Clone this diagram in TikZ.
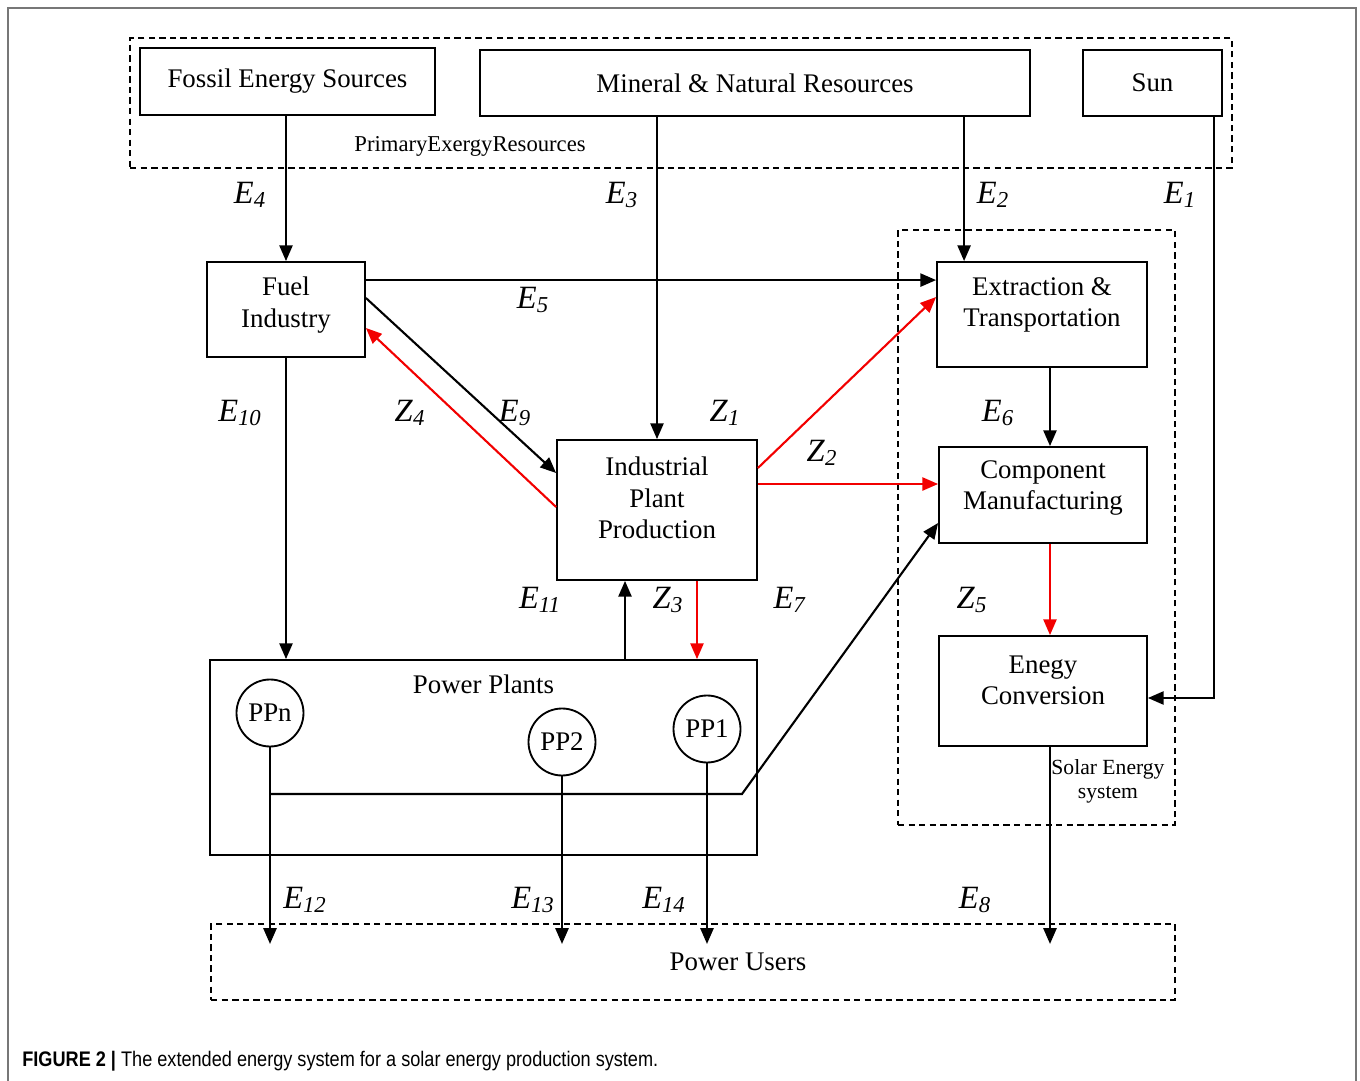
\documentclass[tikz,border=0pt]{standalone}
\usepackage{fontspec}
\setmainfont{Liberation Serif}
\newfontfamily\capfont[FakeStretch=0.86]{Liberation Sans}
\usepackage{xcolor}
\usepackage{tikz}
\usetikzlibrary{arrows.meta,positioning}
\definecolor{flowred}{HTML}{F20000}
\definecolor{framegray}{HTML}{777777}
\newcommand{\boxfont}{\fontsize{15.3}{17.8}\selectfont}
\newcommand{\lblfont}{\fontsize{18.5}{20}\selectfont}
\newcommand{\flow}[2]{\textit{#1}\textsubscript{\textit{#2}}}

\begin{document}
\begin{tikzpicture}[x=0.02cm,y=-0.02cm,
  box/.style={draw,line width=1.05pt,inner sep=0pt,align=center,font=\boxfont},
  txt/.style={align=center,inner sep=0pt,font=\boxfont},
  dashbox/.style={draw,line width=1.2pt,dash pattern=on 3.6pt off 2.4pt,inner sep=0pt},
  pp/.style={draw,circle,line width=1.05pt,minimum size=1.34cm,inner sep=0pt,font=\boxfont},
  flow/.style={line width=1.2pt,-{Triangle[length=9pt,width=7.5pt]}},
  zflow/.style={flow,draw=flowred},
  wire/.style={line width=1.2pt},
  lbl/.style={font=\lblfont,inner sep=0pt}]
  \useasboundingbox (0,0) rectangle (1360,1081);
  \draw[framegray,line width=1.2pt] (8,8) rectangle (1356,1120);

  % primary exergy resources
  \node[dashbox,minimum width=22.04cm,minimum height=2.6cm,
    label={[txt,font=\fontsize{12.9}{14}\selectfont,xshift=-4.22cm,yshift=-0.86cm]center:PrimaryExergyResources}]
    (primary) at (681,103) {};
  \node[box,minimum width=5.9cm,minimum height=1.34cm] (fossil) at (287.5,81.5) {Fossil Energy Sources};
  \node[box,minimum width=11cm,minimum height=1.32cm] (mineral) at (755,83) {Mineral \& Natural Resources};
  \node[box,minimum width=2.78cm,minimum height=1.32cm] (sun) at (1152.5,83) {Sun};

  % solar energy system
  \node[dashbox,minimum width=5.54cm,minimum height=11.9cm,
    label={[txt,font=\fontsize{12.3}{13.6}\selectfont,xshift=1.43cm,yshift=-5.07cm]center:{Solar Energy\\system}}]
    (solar) at (1036.5,527.5) {};
  \node[box,minimum width=4.2cm,minimum height=2.1cm,
    label={[txt,yshift=0.19cm]center:{Extraction \&\\Transportation}}] (extr) at (1042,314.5) {};
  \node[box,minimum width=4.16cm,minimum height=1.92cm,
    label={[txt,yshift=0.14cm]center:{Component\\Manufacturing}}] (comp) at (1043,495) {};
  \node[box,minimum width=4.16cm,minimum height=2.2cm,
    label={[txt,yshift=0.22cm]center:{Enegy\\Conversion}}] (conv) at (1043,691) {};

  \node[box,minimum width=3.16cm,minimum height=1.9cm,
    label={[txt,yshift=0.09cm]center:{Fuel\\Industry}}] (fuel) at (286,309.5) {};
  \node[box,minimum width=4cm,minimum height=2.8cm,
    label={[txt,yshift=0.24cm]center:{Industrial\\Plant\\Production}}] (indus) at (657,510) {};

  % power plants
  \node[box,minimum width=10.94cm,minimum height=3.9cm,
    label={[txt,anchor=north,yshift=-0.3cm]north:Power Plants}] (plants) at (483.5,757.5) {};
  \node[pp] (ppn) at (270,713) {PPn};
  \node[pp] (pp2) at (562,742) {PP2};
  \node[pp] (pp1) at (707,729) {PP1};

  \node[dashbox,minimum width=19.28cm,minimum height=1.52cm,
    label={[txt,xshift=0.9cm]center:Power Users}] (users) at (693,962) {};

  % flows from the resources
  \draw[flow] (fuel.north |- fossil.south) -- (fuel.north);
  \draw[flow] (indus.north |- mineral.south) -- (indus.north);
  \draw[flow] ([xshift=0.56cm]extr.north west |- mineral.south) -- ([xshift=0.56cm]extr.north west);
  \draw[flow] ([xshift=-0.18cm]sun.south east) |- ([yshift=-0.14cm]conv.east);

  % flows between the plants
  \draw[flow] ([yshift=-0.38cm]fuel.north east) -- ([yshift=-0.38cm]fuel.north east -| extr.west);
  \draw[flow] ([yshift=0.23cm]fuel.east) -- ([yshift=0.74cm]indus.west);
  \draw[zflow] ([yshift=0.06cm]indus.west) -- ([yshift=-0.37cm]fuel.east);
  \draw[zflow] ([yshift=0.84cm]indus.east) -- ([yshift=0.35cm]extr.west);
  \draw[zflow] ([yshift=0.22cm]comp.west -| indus.east) -- ([yshift=0.22cm]comp.west);
  \draw[flow] ([xshift=0.14cm]comp.north |- extr.south) -- ([xshift=0.14cm]comp.north);
  \draw[zflow] ([xshift=0.14cm]comp.south) -- ([xshift=0.14cm]conv.north);
  \draw[flow] (fuel.south) -- (fuel.south |- plants.north);
  \draw[flow] ([xshift=-0.64cm]indus.south |- plants.north) -- ([xshift=-0.64cm]indus.south);
  \draw[zflow] ([xshift=0.8cm]indus.south) -- ([xshift=0.8cm]indus.south |- plants.north);

  % power plant outputs
  \coordinate (bend) at (742,794);
  \draw[flow] (ppn.south |- bend) -- (bend) -- ([yshift=-0.56cm]comp.west);
  \draw[flow] (ppn.south) -- ([yshift=-0.42cm]ppn.south |- users.north);
  \draw[flow] (pp2.south) -- ([yshift=-0.42cm]pp2.south |- users.north);
  \draw[flow] (pp1.south) -- ([yshift=-0.42cm]pp1.south |- users.north);
  \draw[flow] ([xshift=0.14cm]conv.south) -- ([xshift=0.14cm,yshift=-0.42cm]conv.south |- users.north);

  % labels
  \node[lbl] (e4) at (250,195) {\flow{E}{4}};
  \node[lbl] (e3) at (622,195) {\flow{E}{3}};
  \node[lbl] (e2) at (993,195) {\flow{E}{2}};
  \node[lbl] (e1) at (1180,195) {\flow{E}{1}};
  \node[lbl] (e5) at (533,300) {\flow{E}{5}};
  \node[lbl] (e10) at (240,413) {\flow{E}{10}};
  \node[lbl] (z4) at (410,413) {\flow{Z}{4}};
  \node[lbl] (e9) at (515,413) {\flow{E}{9}};
  \node[lbl] (z1) at (725,413) {\flow{Z}{1}};
  \node[lbl] (e6) at (998,413) {\flow{E}{6}};
  \node[lbl] (z2) at (822,453) {\flow{Z}{2}};
  \node[lbl] (e11) at (540,600) {\flow{E}{11}};
  \node[lbl] (z3) at (668,600) {\flow{Z}{3}};
  \node[lbl] (e7) at (790,600) {\flow{E}{7}};
  \node[lbl] (z5) at (972,600) {\flow{Z}{5}};
  \node[lbl] (e12) at (305,900) {\flow{E}{12}};
  \node[lbl] (e13) at (533,900) {\flow{E}{13}};
  \node[lbl] (e14) at (664,900) {\flow{E}{14}};
  \node[lbl] (e8) at (975,900) {\flow{E}{8}};

  \node[anchor=base west,inner sep=0pt,font=\capfont\fontsize{12}{14}\selectfont] (caption) at (22,1066)
    {\textbf{FIGURE 2 |} The extended energy system for a solar energy production system.};
\end{tikzpicture}
\end{document}
